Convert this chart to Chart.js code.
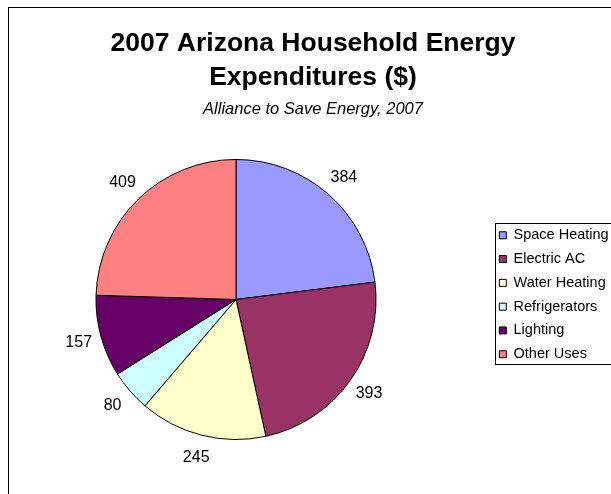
<!DOCTYPE html>
<html>
<head>
<meta charset="utf-8">
<script src="https://cdn.jsdelivr.net/npm/chart.js@4.4.1/dist/chart.umd.min.js"></script>
<style>
    html, body { margin: 0; padding: 0; background: #fff; overflow: hidden; }
    body { width: 611px; height: 494px; position: relative; }
    #frame { position: absolute; left: 8px; top: 7px; width: 700px; height: 600px; border: 1px solid #000; }
    #chart { position: absolute; left: -18px; top: 8px; }
</style>
</head>
<body>
<div id="frame"></div>
<canvas id="chart" width="662" height="490"></canvas>
<script>
const categories = ["Space Heating", "Electric AC", "Water Heating", "Refrigerators", "Lighting", "Other Uses"];
const expenditures = [384, 393, 245, 80, 157, 409];
const titleLines = ["2007 Arizona Household Energy", "Expenditures ($)"];
const subtitleText = "Alliance to Save Energy, 2007";

const sliceColors = ["#9999ff", "#993366", "#ffffcc", "#ccffff", "#660066", "#ff8080"];
const FONT = "'Liberation Sans', Arial, sans-serif";

// legend column is wider than its labels (as in the original sheet)
const legendWidth = {
    id: "legendWidth",
    beforeInit(chart) {
        const fit = chart.legend.fit;
        chart.legend.fit = function () {
            fit.call(this);
            this.width = 154;
        };
    },
};

const legendFrame = {
    id: "legendFrame",
    afterDraw(chart) {
        const boxes = chart.legend.legendHitBoxes;
        if (!boxes || !boxes.length) {
            return;
        }
        const first = boxes[0];
        const last = boxes[boxes.length - 1];
        const left = Math.round(first.left - 4) + 0.5;
        const top = Math.round(first.top - 5) + 0.5;
        const bottom = Math.round(last.top + last.height + 2) + 0.5;
        const ctx = chart.ctx;
        ctx.save();
        ctx.strokeStyle = "#000";
        ctx.lineWidth = 1;
        // right side runs off the page, like the cropped original
        ctx.strokeRect(left, top, chart.width + 4 - left, bottom - top);
        ctx.restore();
    },
};

const sliceLabels = {
    id: "sliceLabels",
    afterDatasetsDraw(chart) {
        const ctx = chart.ctx;
        const meta = chart.getDatasetMeta(0);
        const values = chart.data.datasets[0].data;
        ctx.save();
        ctx.font = "16px " + FONT;
        ctx.fillStyle = "#000";
        ctx.textAlign = "center";
        ctx.textBaseline = "middle";
        meta.data.forEach((arc, i) => {
            const { x, y, startAngle, endAngle, outerRadius } = arc.getProps(
                ["x", "y", "startAngle", "endAngle", "outerRadius"],
                true
            );
            const mid = (startAngle + endAngle) / 2;
            const r = outerRadius + 23;
            ctx.fillText(String(values[i]), x + Math.cos(mid) * r, y + Math.sin(mid) * r);
        });
        ctx.restore();
    },
};

new Chart(document.getElementById("chart"), {
    type: "pie",
    data: {
        labels: categories,
        datasets: [
            {
                data: expenditures,
                backgroundColor: sliceColors,
                borderColor: "#000",
                borderWidth: 1,
                hoverBorderWidth: 1,
                hoverOffset: 0,
            },
        ],
    },
    options: {
        responsive: false,
        devicePixelRatio: 1,
        animation: false,
        layout: {
            padding: { left: 0, right: 0, top: 0, bottom: 58 },
        },
        plugins: {
            title: {
                display: true,
                text: titleLines,
                color: "#000",
                font: { family: FONT, size: 26.5, weight: "bold", lineHeight: 1.272 },
                padding: { top: 19.25, bottom: 0 },
            },
            subtitle: {
                display: true,
                text: subtitleText,
                color: "#000",
                font: { family: FONT, size: 16.5, style: "italic", lineHeight: 1.2 },
                padding: { top: 4.9, bottom: 39.6 },
            },
            legend: {
                position: "right",
                // empty title only pushes the entries down to sit beside the pie
                title: {
                    display: true,
                    text: "",
                    font: { family: FONT, size: 14, lineHeight: 1.2 },
                    padding: { top: 0, bottom: 124.7 },
                },
                labels: {
                    color: "#000",
                    font: { family: FONT, size: 14.5 },
                    boxWidth: 7,
                    boxHeight: 7,
                    padding: 9.3,
                },
            },
            tooltip: {
                enabled: false,
            },
        },
    },
    plugins: [legendWidth, legendFrame, sliceLabels],
});
</script>
</body>
</html>
